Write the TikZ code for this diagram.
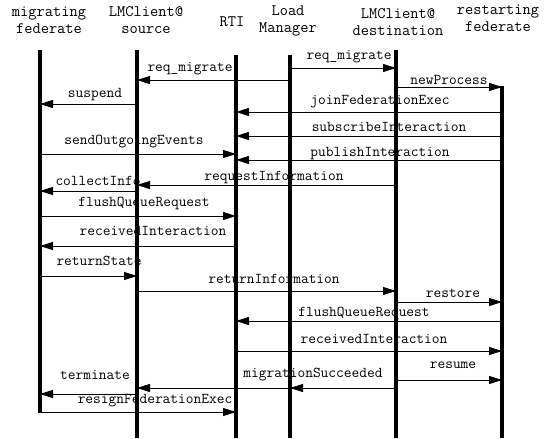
\documentclass[tikz,border=0pt]{standalone}
\usepackage{fontspec}
\usetikzlibrary{arrows.meta, calc}
\tikzstyle{head} = [draw=none, inner sep=0, align=center,
    font=\ttfamily\fontsize{16}{17}\selectfont]
\tikzstyle{life} = [line width=3.5pt]
\tikzstyle{msg} = [line width=1pt, -{Triangle[length=13pt,width=8pt]}]
\tikzstyle{lbl} = [inner sep=0, font=\ttfamily\fontsize{15}{15}\selectfont]

\begin{document}
\begin{tikzpicture}[x=1pt, y=-1pt]
\useasboundingbox (0,0) rectangle (552,439);

    % 1. Place the participants
    \node[head] (hmf) at (49,20.5) {migrating\\federate};
    \node[head] (hsrc) at (146,20.5) {LMClient@\\source};
    \node[head] (hrti) at (232,22) {RTI};
    \node[head] (hlm) at (288,20.5) {Load\\Manager};
    \node[head] (hdst) at (398,22.5) {LMClient@\\destination};
    \node[head] (hrf) at (498,18.5) {restarting\\federate};

%%% LIFELINES
\coordinate (mf) at (40,50);
\coordinate (src) at (137,50);
\coordinate (rti) at (236,55);
\coordinate (lm) at (290,55);
\coordinate (dst) at (396,50);
\coordinate (rf) at (502,86);
\draw[life] (mf) -- (mf |- 0,413);
\draw[life] (src) -- (src |- 0,438);
\draw[life] (rti) -- (rti |- 0,438);
\draw[life] (lm) -- (lm |- 0,438);
\draw[life] (dst) -- (dst |- 0,438);
\draw[life] (rf) -- (rf |- 0,438);

%%% MESSAGES
\draw[msg] (lm |- 0,80) -- (src |- 0,80);
\node[lbl] (m1) at (190,69) {req\_migrate};
\draw[msg] (lm |- 0,68) -- (dst |- 0,68);
\node[lbl] (m2) at (349,57) {req\_migrate};
\draw[msg] (dst |- 0,87) -- (rf |- 0,87);
\node[lbl] (m3) at (449,80) {newProcess};
\draw[msg] (src |- 0,104) -- (mf |- 0,104);
\node[lbl] (m4) at (95,95) {suspend};
\draw[msg] (rf |- 0,112) -- (rti |- 0,112);
\node[lbl] (m5) at (380,102) {joinFederationExec};
\draw[msg] (rf |- 0,136) -- (rti |- 0,136);
\node[lbl] (m6) at (389,127) {subscribeInteraction};
\draw[msg] (mf |- 0,154) -- (rti |- 0,154);
\node[lbl] (m7) at (134,142) {sendOutgoingEvents};
\draw[msg] (rf |- 0,160) -- (rti |- 0,160);
\node[lbl] (m8) at (380,154) {publishInteraction};
\draw[msg] (dst |- 0,185) -- (src |- 0,185);
\node[lbl] (m9) at (274,178) {requestInformation};
\draw[msg] (src |- 0,191) -- (mf |- 0,191);
\node[lbl] (m10) at (98,181) {collectInfo};
\draw[msg] (mf |- 0,216) -- (rti |- 0,216);
\node[lbl] (m11) at (144,203) {flushQueueRequest};
\draw[msg] (rti |- 0,246) -- (mf |- 0,246);
\node[lbl] (m12) at (153,231) {receivedInteraction};
\draw[msg] (mf |- 0,276) -- (src |- 0,276);
\node[lbl] (m13) at (99,261) {returnState};
\draw[msg] (src |- 0,291) -- (dst |- 0,291);
\node[lbl] (m14) at (274,279) {returnInformation};
\draw[msg] (dst |- 0,302) -- (rf |- 0,302);
\node[lbl] (m15) at (453,293) {restore};
\draw[msg] (rf |- 0,321) -- (rti |- 0,321);
\node[lbl] (m16) at (364,313) {flushQueueRequest};
\draw[msg] (rti |- 0,351) -- (rf |- 0,351);
\node[lbl] (m17) at (374,339) {receivedInteraction};
\draw[msg] (dst |- 0,380) -- (rf |- 0,380);
\node[lbl] (m18) at (453,365) {resume};
\draw[msg] (dst |- 0,388) -- (lm |- 0,388);
\draw[msg] (lm |- 0,388) -- (src |- 0,388);
\node[lbl] (m19) at (313,375) {migrationSucceeded};
\draw[msg] (src |- 0,394) -- (mf |- 0,394);
\node[lbl] (m20) at (95,375) {terminate};
\draw[msg] (mf |- 0,412) -- (rti |- 0,412);
\node[lbl] (m21) at (155,401) {resignFederationExec};

\end{tikzpicture}
\end{document}
